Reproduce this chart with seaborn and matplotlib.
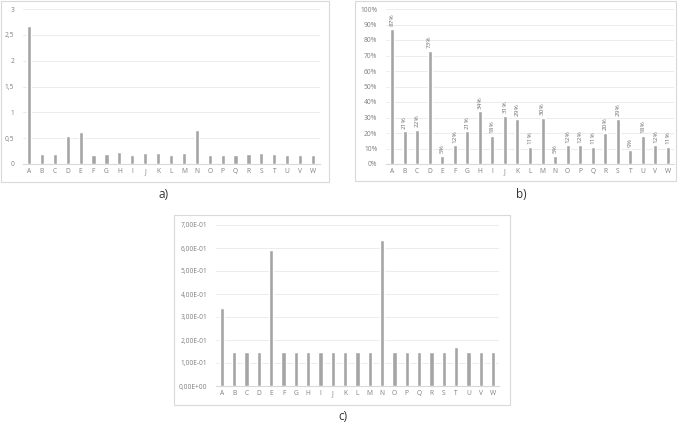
import matplotlib
matplotlib.use("Agg")
import matplotlib.pyplot as plt
from matplotlib.patches import Rectangle
from matplotlib.ticker import FuncFormatter
import pandas as pd
import seaborn as sns

# Data
categories = list("ABCDEFGHIJKLMNOPQRSTUVW")
values_a = [2.67, 0.19, 0.19, 0.55, 0.62, 0.17, 0.19, 0.23, 0.18, 0.22, 0.21, 0.17,
            0.21, 0.66, 0.17, 0.17, 0.17, 0.19, 0.21, 0.19, 0.18, 0.17, 0.17]
values_b = [87, 21, 22, 73, 5, 12, 21, 34, 18, 31, 29, 11,
            30, 5, 12, 12, 11, 20, 29, 9, 18, 12, 11]
values_c = [0.337, 0.15, 0.15, 0.15, 0.592, 0.15, 0.15, 0.15, 0.15, 0.15, 0.15, 0.15,
            0.15, 0.634, 0.15, 0.15, 0.15, 0.15, 0.15, 0.17, 0.15, 0.15, 0.15]
ticks_a = [0, 0.5, 1, 1.5, 2, 2.5, 3]
ticks_b = [0, 10, 20, 30, 40, 50, 60, 70, 80, 90, 100]
ticks_c = [0, 0.1, 0.2, 0.3, 0.4, 0.5, 0.6, 0.7]
panel_labels = ["a)", "b)", "c)"]

sns.set_theme(style="white")
plt.rcParams['font.family'] = ['Open Sans', 'DejaVu Sans']

W, H = 685, 424
BAR = "#a5a5a5"
GRID = "#ececec"
TXT = "#7f7f7f"
FRAME = "#d9d9d9"

fig = plt.figure(figsize=(W / 100, H / 100), dpi=100)
fig.patch.set_facecolor("white")


def px_axes(x0, y0, x1, y1):
    # pixel box (top-left origin) -> figure axes
    return fig.add_axes([x0 / W, (H - y1) / H, (x1 - x0) / W, (y1 - y0) / H])


def px_frame(x0, y0, x1, y1):
    fig.patches.append(Rectangle((x0 / W, (H - y1) / H), (x1 - x0) / W, (y1 - y0) / H,
                                 transform=fig.transFigure, fill=False,
                                 ec=FRAME, lw=0.8))


def style_axes(ax, ticks, fmt):
    ax.set_xlim(-0.5, len(categories) - 0.5)
    ax.set_ylim(ticks[0], ticks[-1])
    ax.set_yticks(ticks)
    ax.yaxis.set_major_formatter(FuncFormatter(fmt))
    ax.grid(axis="y", color=GRID, lw=0.7)
    ax.set_axisbelow(True)
    for s in ["top", "right", "left"]:
        ax.spines[s].set_visible(False)
    ax.spines["bottom"].set_color(FRAME)
    ax.spines["bottom"].set_linewidth(0.8)
    ax.tick_params(length=0, labelsize=4.8, colors=TXT)
    ax.tick_params(axis="y", pad=6)
    ax.tick_params(axis="x", pad=3)
    ax.set_xlabel("")
    ax.set_ylabel("")
    ax.set_facecolor("none")


def comma(v, pos):
    return f"{v:g}".replace(".", ",")


def pct(v, pos):
    return f"{v:.0f}%"


def sci(v, pos):
    return f"{v:.2E}".replace(".", ",")


# panel a
px_frame(1, 1, 329, 182)
ax_a = px_axes(22.5, 9, 319.5, 164)
df_a = pd.DataFrame({"cat": categories, "val": values_a})
sns.barplot(data=df_a, x="cat", y="val", color=BAR, width=0.32, saturation=1, ax=ax_a)
style_axes(ax_a, ticks_a, comma)

# panel b
px_frame(355, 1, 676, 181)
ax_b = px_axes(385.7, 9, 674.3, 164)
df_b = pd.DataFrame({"cat": categories, "val": values_b})
sns.barplot(data=df_b, x="cat", y="val", color=BAR, width=0.32, saturation=1, ax=ax_b)
style_axes(ax_b, ticks_b, pct)
ax_b.bar_label(ax_b.containers[0], labels=[f"{v}%" for v in values_b],
               rotation=90, padding=2, fontsize=4.6, color="#6f6f6f")

# panel c
px_frame(174, 215, 510, 405)
ax_c = px_axes(215.8, 225, 499.2, 386)
df_c = pd.DataFrame({"cat": categories, "val": values_c})
sns.barplot(data=df_c, x="cat", y="val", color=BAR, width=0.35, saturation=1, ax=ax_c)
style_axes(ax_c, ticks_c, sci)

# panel captions
for lab, (x, y) in zip(panel_labels, [(164, 195), (521, 195), (343, 417)]):
    fig.text(x / W, (H - y) / H, lab, ha="center", va="center",
             fontsize=8.5, color="#333333")

fig.savefig("out.png", dpi=100)
